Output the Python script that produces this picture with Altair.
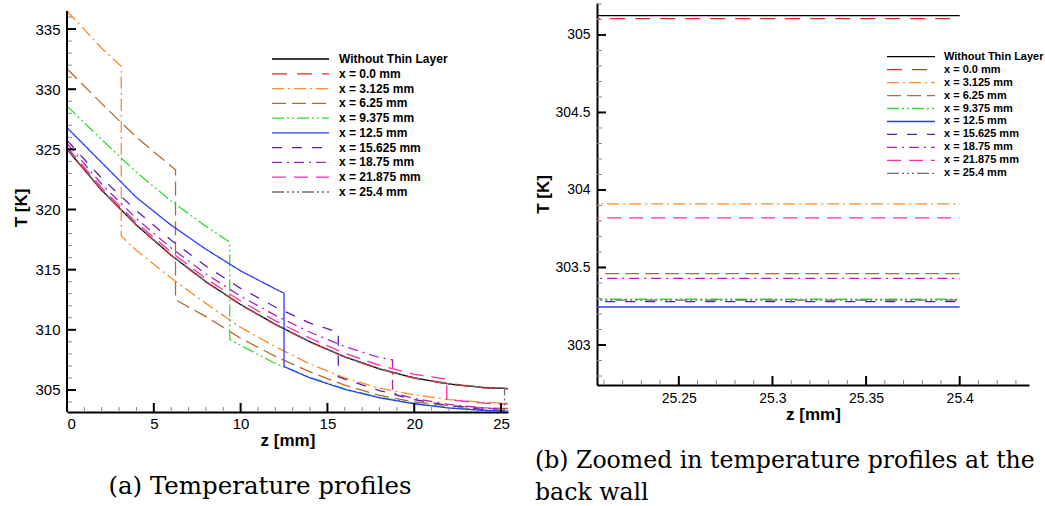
import altair as alt
import pandas as pd

# ---------------- data ----------------
series_names = ["Without Thin Layer", "x = 0.0 mm", "x = 3.125 mm", "x = 6.25 mm",
                "x = 9.375 mm", "x = 12.5 mm", "x = 15.625 mm", "x = 18.75 mm",
                "x = 21.875 mm", "x = 25.4 mm"]
series_colors = ["#000000", "#e3262a", "#ff8c29", "#b8682e", "#33dd33",
                 "#2b3cff", "#5b1fb0", "#b01fc0", "#ff2aa5", "#6e6e6e"]
series_dashes = [[1, 0], [15, 10], [12, 4, 2, 4], [14, 6], [12, 3, 2, 3, 2, 3],
                 [1, 0], [10, 10], [10, 5, 2, 5], [14, 8], [12, 3, 2, 3, 2, 3, 2, 3]]

z_black = [0, 2, 4, 6, 8, 10, 12, 14, 16, 18, 20, 22, 24, 25.4]
T_black = [325.0, 321.6, 318.7, 316.2, 314.0, 312.1, 310.45, 309.0, 307.75, 306.75, 306.0, 305.5, 305.2, 305.12]

z_x00 = [0, 0, 2, 4, 6, 8, 10, 12, 14, 16, 18, 20, 22, 24, 25.4]
T_x00 = [330.0, 325.0, 321.58, 318.68, 316.18, 313.98, 312.08, 310.43, 308.98, 307.73, 306.73, 305.98, 305.48, 305.18, 305.10]

z_x03 = [0, 2, 3.125, 3.125, 4, 6, 8, 10, 12, 14, 16, 18, 20, 22, 24, 25.4]
T_x03 = [336.5, 333.4, 331.9, 317.8, 316.6, 314.3, 312.2, 310.2, 308.6, 307.15, 306.0, 305.15, 304.6, 304.2, 303.98, 303.91]

z_x06 = [0, 2, 4, 6, 6.25, 6.25, 8, 10, 12, 14, 16, 18, 20, 22, 24, 25.4]
T_x06 = [331.7, 328.8, 326.0, 323.6, 323.3, 312.5, 311.1, 309.3, 307.8, 306.5, 305.4, 304.55, 304.0, 303.7, 303.52, 303.46]

z_x09 = [0, 2, 4, 6, 8, 9.375, 9.375, 10, 12, 14, 16, 18, 20, 22, 24, 25.4]
T_x09 = [328.6, 325.8, 323.1, 320.7, 318.6, 317.3, 309.2, 308.7, 307.2, 306.05, 305.1, 304.4, 303.9, 303.55, 303.35, 303.29]

z_x12 = [0, 2, 4, 6, 8, 10, 12, 12.5, 12.5, 14, 16, 18, 20, 22, 24, 25.4]
T_x12 = [326.8, 323.9, 321.0, 318.7, 316.7, 314.9, 313.4, 313.05, 306.95, 306.0, 305.05, 304.35, 303.85, 303.5, 303.3, 303.24]

z_x15 = [0, 2, 4, 6, 8, 10, 12, 14, 15.625, 15.625, 16, 18, 20, 22, 24, 25.4]
T_x15 = [325.75, 322.6, 319.9, 317.45, 315.3, 313.45, 311.9, 310.55, 309.8, 306.1, 305.9, 304.95, 304.2, 303.7, 303.38, 303.28]

z_x18 = [0, 2, 4, 6, 8, 10, 12, 14, 16, 18, 18.75, 18.75, 20, 22, 24, 25.4]
T_x18 = [325.5, 322.1, 319.25, 316.8, 314.65, 312.8, 311.2, 309.8, 308.6, 307.7, 307.5, 304.75, 304.3, 303.8, 303.5, 303.43]

z_x21 = [0, 2, 4, 6, 8, 10, 12, 14, 16, 18, 20, 21.875, 21.875, 22, 24, 25.4]
T_x21 = [325.2, 321.8, 318.9, 316.45, 314.25, 312.4, 310.75, 309.3, 308.05, 307.05, 306.3, 305.9, 304.2, 304.18, 303.9, 303.82]

z_x25 = [0, 2, 4, 6, 8, 10, 12, 14, 16, 18, 20, 22, 24, 25.2, 25.2, 25.4]
T_x25 = [325.05, 321.63, 318.73, 316.23, 314.03, 312.13, 310.48, 309.03, 307.78, 306.78, 306.03, 305.53, 305.23, 305.15, 303.29, 303.29]

profiles_z = [z_black, z_x00, z_x03, z_x06, z_x09, z_x12, z_x15, z_x18, z_x21, z_x25]
profiles_T = [T_black, T_x00, T_x03, T_x06, T_x09, T_x12, T_x15, T_x18, T_x21, T_x25]

# zoomed view at the back wall
back_wall_z = [25.2, 25.4]
back_wall_T = [305.125, 305.105, 303.91, 303.46, 303.295, 303.245, 303.28, 303.43, 303.82, 303.29]

caption_a = "(a) Temperature profiles"
caption_b1 = "(b) Zoomed in temperature profiles at the"
caption_b2 = "back wall"

# ---------------- tables ----------------
rows = []
for name, zs, ts in zip(series_names, profiles_z, profiles_T):
    for i, (z, t) in enumerate(zip(zs, ts)):
        rows.append({"series": name, "i": i, "z": z, "T": t})
df1 = pd.DataFrame(rows)

rows = []
for name, t in zip(series_names, back_wall_T):
    for i, z in enumerate(back_wall_z):
        rows.append({"series": name, "i": i, "z": z, "T": t})
df2 = pd.DataFrame(rows)

leg_df = pd.DataFrame({"series": series_names, "row": list(range(len(series_names)))})

col = alt.Scale(domain=series_names, range=series_colors)
dash = alt.Scale(domain=series_names, range=series_dashes)

FONT = "Liberation Sans"


def panel(df, W, H, xs, ys, xaxis, yaxis, leg_x0, leg_x1, leg_tx, leg_y0, leg_y1,
          leg_font, xmaj, xmin, ymaj, ymin):
    lines = alt.Chart(df).mark_line(strokeWidth=1.3, clip=True).encode(
        x=alt.X("z:Q", scale=xs, axis=xaxis),
        y=alt.Y("T:Q", scale=ys, axis=yaxis),
        color=alt.Color("series:N", scale=col, legend=None),
        strokeDash=alt.StrokeDash("series:N", scale=dash, legend=None),
        detail="series:N",
        order="i:Q",
    )
    layers = [lines]
    for vals, ln, c, w in [(ymin, 5, "#888888", 1), (ymaj, 9, "black", 2)]:
        layers.append(alt.Chart(pd.DataFrame({"v": vals})).mark_rule(color=c, strokeWidth=w).encode(
            y=alt.Y("v:Q", scale=ys, axis=None), x=alt.value(0), x2=alt.value(ln)))
    for vals, ln, c, w in [(xmin, 5, "#888888", 1), (xmaj, 9, "black", 2)]:
        layers.append(alt.Chart(pd.DataFrame({"v": vals})).mark_rule(color=c, strokeWidth=w).encode(
            x=alt.X("v:Q", scale=xs, axis=xaxis), y=alt.value(H), y2=alt.value(H - ln)))
    ly = alt.Y("row:Q", scale=alt.Scale(domain=[0, len(series_names) - 1], range=[leg_y0, leg_y1]), axis=None)
    layers.append(alt.Chart(leg_df).mark_rule(strokeWidth=1.3).encode(
        x=alt.value(leg_x0), x2=alt.value(leg_x1), y=ly,
        color=alt.Color("series:N", scale=col, legend=None),
        strokeDash=alt.StrokeDash("series:N", scale=dash, legend=None)))
    layers.append(alt.Chart(leg_df).mark_text(align="left", baseline="middle", font=FONT,
                                              fontSize=leg_font, fontWeight="bold", color="black").encode(
        x=alt.value(leg_tx), y=ly, text="series:N"))
    return layers


# ---------------- left panel ----------------
W1, H1 = 441, 409
T_lo1, T_hi1 = 303.17, 336.5
xs1 = alt.Scale(domain=[0, 25.4], nice=False, zero=False)
ys1 = alt.Scale(domain=[T_lo1, 337.165], nice=False, zero=False)
xaxis1 = alt.Axis(values=[0, 5, 10, 15, 20, 25], format="d", title="z [mm]", labelFontSize=15,
                  labelPadding=4, titleFontSize=17, titleFontWeight="bold", titlePadding=1)
yaxis1 = alt.Axis(values=[305, 310, 315, 320, 325, 330, 335], format="d", title="T [K]", labelFontSize=15,
                  labelPadding=7, titleFontSize=17, titleFontWeight="bold", titlePadding=4, domain=False)
L = panel(df1, W1, H1, xs1, ys1, xaxis1, yaxis1,
          205, 262, 272, 56, 189, 12,
          [0, 5, 10, 15, 20, 25], [v for v in range(1, 26) if v % 5],
          [305, 310, 315, 320, 325, 330, 335], [v for v in range(304, 337) if v % 5])
L.append(alt.Chart(pd.DataFrame({"a": [T_lo1], "b": [T_hi1]})).mark_rule(color="black", strokeWidth=2).encode(
    y=alt.Y("a:Q", scale=ys1, axis=None), y2="b:Q", x=alt.value(0)))
L.append(alt.Chart(pd.DataFrame({"t": [caption_a]})).mark_text(
    font="DejaVu Serif", fontSize=24.5, align="center", baseline="middle", color="black").encode(
    x=alt.value(193), y=alt.value(484), text="t:N"))
left = alt.layer(*L).resolve_scale(y="independent").properties(width=W1, height=H1)

# ---------------- right panel ----------------
W2, H2 = 432, 382
xs2 = alt.Scale(domain=[25.2063, 25.437], nice=False, zero=False)
ys2 = alt.Scale(domain=[302.742, 305.206], nice=False, zero=False)
xmin2 = [round(25.21 + 0.01 * k, 2) for k in range(23)]
xmin2 = [v for v in xmin2 if round(v * 100) % 5]
ymin2 = [round(302.8 + 0.1 * k, 1) for k in range(25)]
ymin2 = [v for v in ymin2 if round(v * 10) % 5]
xaxis2 = alt.Axis(values=[25.25, 25.3, 25.35, 25.4], format=".2~f", title="z [mm]", labelFontSize=14,
                  labelPadding=6, titleFontSize=17, titleFontWeight="bold", titlePadding=1)
yaxis2 = alt.Axis(values=[303, 303.5, 304, 304.5, 305], format=".1~f", title="T [K]", labelFontSize=14,
                  labelPadding=7, titleFontSize=17, titleFontWeight="bold", titlePadding=2)
R = panel(df2, W2, H2, xs2, ys2, xaxis2, yaxis2,
          290, 338, 347, 53.7, 170.3, 11,
          [25.25, 25.3, 25.35, 25.4], xmin2,
          [303, 303.5, 304, 304.5, 305], ymin2)
R.append(alt.Chart(pd.DataFrame({"t": [caption_b1, caption_b2], "k": [0, 1]})).mark_text(
    font="DejaVu Serif", fontSize=23.6, align="left", baseline="middle", color="black").encode(
    x=alt.value(-62), y=alt.Y("k:Q", scale=alt.Scale(domain=[0, 1], range=[458, 490]), axis=None), text="t:N"))
right = alt.layer(*R).resolve_scale(y="independent").properties(width=W2, height=H2)

chart = alt.hconcat(left, right, spacing=24).properties(
    padding={"left": 12, "top": 3, "right": 0, "bottom": 0},
    background="white",
).configure_view(stroke=None).configure_axis(
    labelFont=FONT, titleFont=FONT, labelColor="black", titleColor="black",
    domainColor="black", domainWidth=2, ticks=False, grid=False)

chart.save("out.html", embed_options={"renderer": "svg", "actions": False})
